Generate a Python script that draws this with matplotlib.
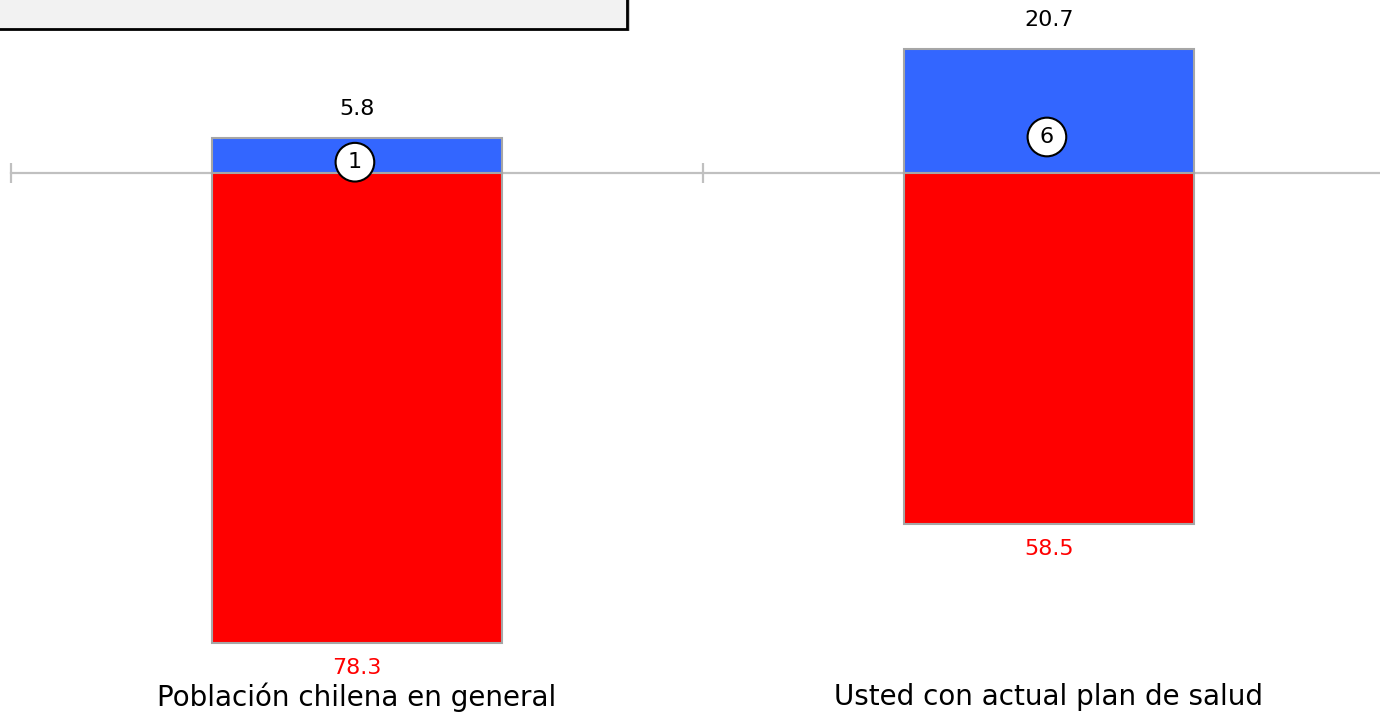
import matplotlib.pyplot as plt
from matplotlib.patches import Rectangle

# Data
categories = ["Población chilena en general", "Usted con actual plan de salud"]
positive = [5.8, 20.7]
negative = [78.3, 58.5]
circle_labels = ["1", "6"]
circle_y = [1.8, 6.0]

W, H = 1380, 714
fig = plt.figure(figsize=(W / 100, H / 100), dpi=100)
ax = fig.add_axes([0, 0, 1, 1])
ax.axis('off')

# pixel mapping: category centres at 357 and 1049 px, baseline at 173 px, 6 px per unit
x0, step = 357, 692
ax.set_xlim(-x0 / step, (W - x0) / step)
ax.set_ylim(-(H - 173) / 6, 173 / 6)

xs = list(range(len(categories)))
bw = 290 / step
edge = '#a6a6a6'

# baseline with category ticks
ax.plot([-0.5, len(categories) - 0.5], [0, 0], color='#c0c0c0', lw=1.6, zorder=1)
ax.vlines([i - 0.5 for i in range(len(categories) + 1)], -1.7, 1.7, color='#c0c0c0', lw=1.6, zorder=1)

ax.bar(xs, positive, width=bw, color='#3366ff', edgecolor=edge, lw=1.5, zorder=2)
ax.bar(xs, [-v for v in negative], width=bw, color='#ff0000', edgecolor=edge, lw=1.5, zorder=2)

for x, p, n, c, cy in zip(xs, positive, negative, circle_labels, circle_y):
    ax.annotate(f"{p:.1f}", (x, p), xytext=(0, 21), textcoords='offset points',
                ha='center', va='center', fontsize=16, color='black')
    ax.annotate(f"{n:.1f}", (x, -n), xytext=(0, -18), textcoords='offset points',
                ha='center', va='center', fontsize=16, color='#ff0000')
    ax.text(x - 0.003, cy, c, ha='center', va='center', fontsize=16, zorder=4,
            bbox=dict(boxstyle='circle,pad=0.42', fc='white', ec='black', lw=1.5))

for x, lab in zip(xs, categories):
    ax.text(x, -(697 - 173) / 6, lab, ha='center', va='center', fontsize=20, color='black')

# clipped legend box at the top left
fig.add_artist(Rectangle((627 / W, (H - 31) / H), 3 / W, 31 / H, transform=fig.transFigure,
                         fc='#cccccc', ec='none', zorder=4))
fig.add_artist(Rectangle((-5 / W, (H - 29) / H), 632 / W, 40 / H, transform=fig.transFigure,
                         fc='#f2f2f2', ec='black', lw=2, zorder=5))

fig.savefig('out.png', dpi=100)
